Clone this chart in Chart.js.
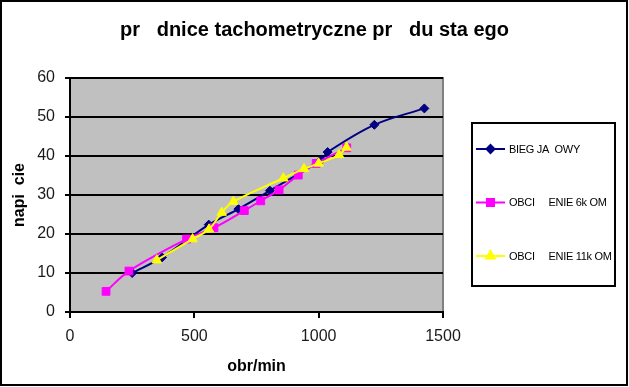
<!DOCTYPE html>
<html>
<head>
<meta charset="utf-8">
<script src="https://cdn.jsdelivr.net/npm/chart.js@4/dist/chart.umd.min.js"></script>
<style>
  html, body { margin: 0; padding: 0; background: #fff; }
  #wrap { width: 629px; height: 387px; }
</style>
</head>
<body>
<div id="wrap"><canvas id="chart" width="629" height="387"></canvas></div>
<script>
// values
const titleText = 'pr   dnice tachometryczne pr   du sta ego';
const seriesNames = ['BIEG JA  OWY', 'OBCI     ENIE 6k OM', 'OBCI     ENIE 11k OM'];
const seriesColors = ['#000080', '#FF00FF', '#FFFF00'];
const seriesMarkers = ['rectRot', 'rect', 'triangle'];

const biegX = [250, 370, 558, 677, 804, 1010, 1036, 1224, 1425];
const biegY = [10.0, 14.0, 22.4, 26.4, 31.1, 39.0, 41.0, 48.0, 52.2];

const obc6X = [145, 237, 469, 579, 701, 767, 841, 918, 990, 1113];
const obc6Y = [5.3, 10.5, 18.7, 21.6, 26.0, 28.5, 31.3, 35.1, 38.1, 42.1];

const obc11X = [349, 493, 559, 610, 657, 858, 941, 1000, 1082, 1112];
const obc11Y = [13.3, 18.7, 21.2, 25.5, 28.3, 34.3, 36.7, 38.1, 40.3, 42.2];

const xTicks = [0, 500, 1000, 1500];
const yTicks = [0, 10, 20, 30, 40, 50, 60];

function pts(xs, ys) {
    return xs.map((x, i) => ({ x: x, y: ys[i] }));
}

const allX = [biegX, obc6X, obc11X];
const allY = [biegY, obc6Y, obc11Y];
const markerSize = [4.5, 5.5, 5.5];
const FONT = '"Liberation Sans", Arial, sans-serif';

const datasets = seriesNames.map((name, i) => ({
    label: name,
    data: pts(allX[i], allY[i]),
    showLine: true,
    borderColor: seriesColors[i],
    backgroundColor: seriesColors[i],
    borderWidth: 2,
    pointStyle: seriesMarkers[i],
    pointRadius: markerSize[i],
    pointBorderWidth: 1,
    tension: 0.35,
    order: 3 - i
}));

// grey plot area, title, outer frame and the boxed legend
const decor = {
    id: 'decor',
    beforeDraw(chart) {
        const { ctx, chartArea: a } = chart;
        ctx.save();
        ctx.fillStyle = '#fff';
        ctx.fillRect(0, 0, chart.width, chart.height);
        ctx.fillStyle = '#C0C0C0';
        ctx.fillRect(a.left, a.top, a.right - a.left, a.bottom - a.top);
        ctx.strokeStyle = '#808080';
        ctx.lineWidth = 2;
        ctx.beginPath();
        ctx.moveTo(a.left, a.top);
        ctx.lineTo(a.right, a.top);
        ctx.lineTo(a.right, a.bottom);
        ctx.stroke();

        ctx.fillStyle = '#000';
        ctx.font = 'bold 20px ' + FONT;
        ctx.textAlign = 'center';
        ctx.textBaseline = 'alphabetic';
        ctx.fillText(titleText, 314.5, 35.5);
        ctx.restore();
    },
    afterDraw(chart) {
        const ctx = chart.ctx;
        ctx.save();
        ctx.strokeStyle = '#000';
        ctx.lineWidth = 2;
        ctx.strokeRect(1, 1, chart.width - 3, chart.height - 3);

        ctx.fillStyle = '#fff';
        ctx.fillRect(472, 123, 143, 163);
        ctx.strokeRect(472, 123, 143, 163);

        ctx.font = '11px ' + FONT;
        ctx.letterSpacing = '-0.3px';
        ctx.textBaseline = 'middle';
        seriesNames.forEach((name, i) => {
            const y = 149 + i * 53.5;
            ctx.strokeStyle = seriesColors[i];
            ctx.lineWidth = 2;
            ctx.beginPath();
            ctx.moveTo(476, y);
            ctx.lineTo(505, y);
            ctx.stroke();
            ctx.fillStyle = seriesColors[i];
            Chart.helpers.drawPoint(ctx, {
                pointStyle: seriesMarkers[i],
                radius: markerSize[i] - 0.5,
                rotation: 0,
                borderWidth: 1
            }, 490.5, y);
            ctx.fill();
            ctx.fillStyle = '#000';
            ctx.fillText(name, 509, y + 0.5);
        });
        ctx.restore();
    }
};

new Chart(document.getElementById('chart'), {
    type: 'scatter',
    data: { datasets: datasets },
    options: {
        responsive: false,
        animation: false,
        layout: { padding: { top: 78, right: 186, bottom: 0, left: 0 } },
        plugins: {
            legend: { display: false },
            tooltip: { enabled: false },
            title: { display: false }
        },
        scales: {
            x: {
                type: 'linear',
                min: 0,
                max: 1500,
                afterBuildTicks(scale) { scale.ticks = xTicks.map(v => ({ value: v })); },
                afterFit(scale) { scale.height = 75; },
                grid: { drawOnChartArea: false, drawTicks: true, tickLength: 6, color: '#000', lineWidth: 2 },
                border: { color: '#000', width: 2 },
                ticks: {
                    color: '#1a1a1a',
                    padding: 9,
                    maxRotation: 0,
                    callback: v => String(v),
                    font: { family: FONT, size: 16 }
                },
                title: {
                    display: true,
                    text: 'obr/min',
                    color: '#000',
                    font: { family: FONT, size: 16, weight: 'bold' },
                    padding: { top: 0, bottom: 11 }
                }
            },
            y: {
                type: 'linear',
                min: 0,
                max: 60,
                afterBuildTicks(scale) { scale.ticks = yTicks.map(v => ({ value: v })); },
                afterFit(scale) { scale.width = 70; },
                grid: { color: '#000', lineWidth: 2, tickLength: 5 },
                border: { color: '#000', width: 2 },
                ticks: {
                    color: '#1a1a1a',
                    padding: 10,
                    callback: v => String(v),
                    font: { family: FONT, size: 16 }
                },
                title: {
                    display: true,
                    text: 'napi  cie',
                    color: '#000',
                    font: { family: FONT, size: 16, weight: 'bold' },
                    padding: { top: 10, bottom: 0 }
                }
            }
        }
    },
    plugins: [decor]
});
</script>
</body>
</html>
